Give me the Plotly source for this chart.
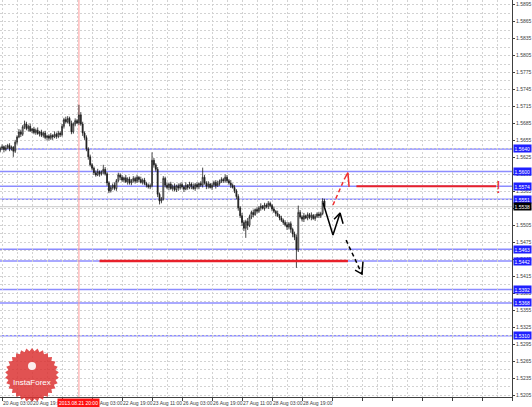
import numpy as np
import plotly.graph_objects as go

# ---------------- data ----------------
first_open = 1.5638
closes = [
    1.5641, 1.5644, 1.5639, 1.5642, 1.5646, 1.5640, 1.5643, 1.5636,
    1.5652, 1.5661, 1.5670, 1.5666, 1.5679,
    1.5684,
    1.5676, 1.5680, 1.5672, 1.5675, 1.5669, 1.5673, 1.5667, 1.5670, 1.5664, 1.5668, 1.5660, 1.5663,
    1.5659, 1.5664, 1.5661, 1.5666, 1.5662, 1.5668, 1.5665,
    1.5680, 1.5692, 1.5688,
    1.5694, 1.5685, 1.5670, 1.5684, 1.5690, 1.5686,
    1.5700,
    1.5684, 1.5668, 1.5660,
    1.5640, 1.5626,
    1.5612, 1.5606,
    1.5598, 1.5594, 1.5600, 1.5596,
    1.5599, 1.5604, 1.5596, 1.5580,
    1.5566,
    1.5572, 1.5576, 1.5570,
    1.5584, 1.5594, 1.5590,
    1.5585, 1.5589, 1.5582, 1.5587, 1.5580, 1.5584, 1.5588,
    1.5583, 1.5590, 1.5586, 1.5581, 1.5585, 1.5579, 1.5576,
    1.5573, 1.5575,
    1.5620,
    1.5612, 1.5604,
    1.5560, 1.5548,
    1.5552,
    1.5588,
    1.5576, 1.5572, 1.5578, 1.5570, 1.5574, 1.5568, 1.5575, 1.5571, 1.5577,
    1.5573, 1.5569, 1.5576, 1.5572, 1.5578, 1.5574, 1.5570, 1.5577, 1.5573, 1.5579, 1.5576,
    1.5590,
    1.5580, 1.5574, 1.5578, 1.5572, 1.5576, 1.5581, 1.5575, 1.5579, 1.5583, 1.5586, 1.5584,
    1.5590,
    1.5584, 1.5580, 1.5576, 1.5572, 1.5566, 1.5556,
    1.5536, 1.5522, 1.5510,
    1.5500, 1.5512, 1.5505,
    1.5520, 1.5528, 1.5524, 1.5533, 1.5530, 1.5536, 1.5539, 1.5535, 1.5541, 1.5538, 1.5544, 1.5540,
    1.5534, 1.5530, 1.5526, 1.5522, 1.5518, 1.5514,
    1.5510, 1.5506, 1.5502, 1.5508, 1.5498,
    1.5490, 1.5484, 1.5462,
    1.5528,
    1.5520, 1.5516, 1.5522, 1.5518, 1.5524, 1.5519, 1.5523, 1.5517, 1.5521, 1.5525, 1.5522,
    1.5526, 1.5548, 1.5538,
]
# upper / lower wick lengths in pips
up_wick = [
    3, 4, 2, 5, 3, 4, 3, 2,
    4, 3, 5, 4, 3,
    6,
    4, 3, 5, 2, 4, 3, 5, 2, 4, 3, 4, 2,
    3, 4, 2, 5, 3, 4, 3,
    4, 3, 5,
    4, 3, 5, 3, 4, 3,
    18,
    5, 4, 3,
    4, 3,
    4, 3,
    3, 4, 5, 2,
    3, 8, 4, 3,
    3,
    4, 3, 5,
    3, 4, 3,
    4, 2, 5, 3, 4, 3, 4,
    3, 4, 2, 5, 3, 4, 3,
    3, 4,
    14,
    4, 3,
    4, 3,
    3,
    4,
    3, 5, 2, 4, 3, 5, 2, 4, 3,
    4, 3, 5, 2, 4, 3, 5, 3, 4, 2, 4,
    17,
    4, 3, 5, 2, 4, 3, 4, 5, 3, 4, 3,
    5,
    4, 3, 5, 3, 4, 3,
    4, 3, 5,
    4, 3, 6,
    4, 3, 5, 2, 4, 3, 5, 2, 4, 3, 4, 3,
    3, 4, 2, 5, 3, 4,
    3, 4, 5, 3, 4,
    3, 4, 5,
    12,
    4, 3, 5, 2, 4, 3, 5, 2, 4, 3, 4,
    3, 5, 4,
]
down_wick = [
    4, 3, 5, 3, 2, 4, 3, 10,
    3, 4, 2, 5, 3,
    4,
    3, 5, 2, 4, 3, 4, 2, 5, 3, 4, 3, 5,
    4, 3, 5, 2, 4, 3, 4,
    3, 4, 3,
    3, 5, 4, 3, 4, 2,
    4,
    3, 5, 4,
    4, 5,
    3, 4,
    4, 3, 2, 5,
    3, 4, 3, 5,
    4,
    3, 4, 3,
    4, 3, 5,
    3, 4, 2, 5, 3, 4, 3,
    4, 3, 5, 2, 4, 3, 4,
    3, 4,
    3,
    5, 4,
    5, 6,
    4,
    3,
    4, 3, 5, 2, 4, 3, 4, 5, 3,
    3, 5, 2, 4, 3, 5, 2, 4, 3, 4, 3,
    4,
    3, 5, 4, 2, 4, 3, 5, 2, 4, 3, 4,
    3,
    4, 3, 5, 2, 4, 5,
    5, 4, 6,
    5, 17, 8,
    3, 4, 5, 2, 4, 3, 5, 2, 4, 3, 4, 3,
    4, 3, 5, 2, 4, 3,
    4, 3, 5, 4, 6,
    6, 5, 32,
    4,
    3, 4, 5, 2, 4, 3, 5, 2, 4, 3, 4,
    4, 3, 4,
]

# x axis: bar index (H1 bars), labels every 16 bars
x_label_bars = [1, 17, 49, 65, 81, 97, 113, 129, 145, 161]
x_label_text = ["20 Aug 03:00", "20 Aug 19:00", "22 Aug 03:00", "22 Aug 19:00",
                "23 Aug 11:00", "26 Aug 03:00", "26 Aug 19:00", "27 Aug 11:00",
                "28 Aug 03:00", "28 Aug 19:00"]
marker_bar = 42
marker_text = "2013.08.21 20:00"

# price axis
y_tick_vals = [round(1.5205 + 0.003 * k, 4) for k in range(24)]
blue_levels = [1.5640, 1.5600, 1.5574, 1.5551, 1.5463, 1.5442, 1.5392, 1.5368, 1.5310]
current_price = 1.5538

# drawn forecast elements (bar index, price)
support_line_x = [53, 185.5]
support_line_y = [1.5442, 1.5442]
target_line_x = [190, 264.5]
target_line_y = [1.5574, 1.5574]
red_arrow_x = [177.5, 183.9]
red_arrow_y = [1.5541, 1.5589]
red_head_x = [183.9, 185.5, 186.1]
red_head_y = [1.5589, 1.5598, 1.5573]
zig_x = [172.2, 177.5, 181.3]
zig_y = [1.5545, 1.5488, 1.5527]
zig_head_x = [178.1, 181.3, 182.9]
zig_head_y = [1.5516, 1.5527, 1.5508]
down_arrow_x = [184.5, 193.0]
down_arrow_y = [1.5479, 1.5419]
down_head_x = [189.3, 193.0, 193.5]
down_head_y = [1.5426, 1.5419, 1.5441]

# ---------------- build figure ----------------
n = len(closes)
bars = list(range(n))
opens = [first_open] + closes[:-1]
highs = [round(max(o, c) + u * 0.0001, 5) for o, c, u in zip(opens, closes, up_wick)]
lows = [round(min(o, c) - d * 0.0001, 5) for o, c, d in zip(opens, closes, down_wick)]

W, H = 532, 407
ML, MR, MT, MB = 0, 20, 0, 10
PW, PH = W - ML - MR, H - MT - MB

FONT = "Liberation Sans"

fig = go.Figure()
fig.add_trace(go.Candlestick(
    x=bars, open=opens, high=highs, low=lows, close=closes,
    increasing=dict(line=dict(color="#1a1a1a", width=0.8), fillcolor="#ffffff"),
    decreasing=dict(line=dict(color="#1a1a1a", width=0.8), fillcolor="#1a1a1a"),
    whiskerwidth=0, showlegend=False, hoverinfo="skip",
))

def line_trace(xs, ys, color, width, dash="solid"):
    fig.add_trace(go.Scatter(x=xs, y=ys, mode="lines",
                             line=dict(color=color, width=width, dash=dash),
                             showlegend=False, hoverinfo="skip"))

line_trace(support_line_x, support_line_y, "#e8202a", 2.5)
line_trace(target_line_x, target_line_y, "#e8202a", 2)
line_trace(red_arrow_x, red_arrow_y, "#f03030", 1.5, "4px,3px")
line_trace(red_head_x, red_head_y, "#f03030", 1.5)
line_trace(zig_x, zig_y, "#000000", 1.5)
line_trace(zig_head_x, zig_head_y, "#000000", 1.5)
line_trace(down_arrow_x, down_arrow_y, "#000000", 1.5, "4px,3px")
line_trace(down_head_x, down_head_y, "#000000", 1.5)

shapes = []
for lv in blue_levels:
    shapes.append(dict(type="line", xref="paper", x0=0, x1=1, yref="y", y0=lv, y1=lv,
                       line=dict(color="#8c8cff", width=1.5), layer="below"))
shapes.append(dict(type="line", xref="paper", x0=0, x1=1, yref="y", y0=current_price,
                   y1=current_price, line=dict(color="#c8c8c8", width=1), layer="below"))
shapes.append(dict(type="line", xref="x", x0=marker_bar, x1=marker_bar, yref="paper",
                   y0=0, y1=1, line=dict(color="#ff9a9a", width=1), layer="below"))

# InstaForex badge (starburst) in pixel space -> paper
cx, cy, R1, R2, NP = 32, 375, 27, 24, 30
pts = []
for k in range(2 * NP):
    a = k * np.pi / NP
    r = R1 if k % 2 == 0 else R2
    X = cx + r * np.sin(a)
    Y = cy - r * np.cos(a)
    pts.append(((X - ML) / PW, (PH + MT - Y) / PH))
path = "M " + " L ".join(f"{px:.4f},{py:.4f}" for px, py in pts) + " Z"
shapes.append(dict(type="path", xref="paper", yref="paper", path=path,
                   fillcolor="rgba(220,52,52,0.85)", line=dict(width=0), layer="above"))
# small white icon
ix, iy, ir = 32, 366, 4
shapes.append(dict(type="circle", xref="paper", yref="paper",
                   x0=(ix - ir) / PW, x1=(ix + ir) / PW,
                   y0=(PH - iy - ir) / PH, y1=(PH - iy + ir) / PH,
                   fillcolor="rgba(255,255,255,0.9)", line=dict(width=0), layer="above"))

annotations = []
for b, t in zip(x_label_bars, x_label_text):
    annotations.append(dict(x=b, xref="x", y=0, yref="paper", yanchor="top", xanchor="left",
                            yshift=-1, xshift=-1, text=t, showarrow=False,
                            font=dict(family=FONT, size=5, color="#404040")))
annotations.append(dict(x=marker_bar, xref="x", y=0, yref="paper", yanchor="top",
                        xanchor="center", yshift=-1, text=marker_text, showarrow=False,
                        bgcolor="#ff1010", borderpad=1,
                        font=dict(family=FONT, size=5, color="#ffffff")))
for lv in blue_levels:
    annotations.append(dict(x=1, xref="paper", xanchor="left", xshift=1, y=lv, yref="y",
                            text=f"{lv:.4f}", showarrow=False, bgcolor="#1f1fff", borderpad=0.5,
                            font=dict(family=FONT, size=5, color="#ffffff")))
annotations.append(dict(x=1, xref="paper", xanchor="left", xshift=1, y=current_price, yref="y",
                        text=f"{current_price:.4f}", showarrow=False, bgcolor="#000000",
                        borderpad=0.5, font=dict(family=FONT, size=5, color="#ffffff")))
annotations.append(dict(x=503 / PW, xref="paper", y=(PH - 188) / PH, yref="paper",
                        text="!", showarrow=False,
                        font=dict(family=FONT, size=17, color="#f03030")))
annotations.append(dict(x=cx / PW, xref="paper", xanchor="center", y=(PH - 382) / PH,
                        yref="paper", yanchor="middle",
                        text="InstaForex", showarrow=False,
                        font=dict(family=FONT, size=8, color="#ffffff")))

grid_col = "#d2d2d2"
fig.update_layout(
    width=W, height=H,
    margin=dict(l=ML, r=MR, t=MT, b=MB, pad=0),
    paper_bgcolor="#ffffff", plot_bgcolor="#ffffff",
    showlegend=False,
    shapes=shapes, annotations=annotations,
    xaxis=dict(
        range=[-0.1, 273], rangeslider=dict(visible=False), fixedrange=True,
        tickmode="array", tickvals=list(range(1, 274, 16)), showticklabels=False,
        ticks="outside", ticklen=3, tickcolor="#404040",
        showgrid=True, gridcolor=grid_col, griddash="2px,2px", gridwidth=1,
        minor=dict(tickmode="array", tickvals=list(range(9, 274, 16)), showgrid=True,
                   gridcolor=grid_col, griddash="2px,2px", ticks=""),
        showline=True, linecolor="#404040", linewidth=1, zeroline=False, automargin=False,
    ),
    yaxis=dict(
        range=[1.5202, 1.5903], side="right", fixedrange=True,
        tickmode="array", tickvals=y_tick_vals, ticktext=[f"{v:.4f}" for v in y_tick_vals],
        tickfont=dict(family=FONT, size=5, color="#404040"),
        ticks="outside", ticklen=2, tickcolor="#404040",
        showgrid=True, gridcolor=grid_col, griddash="2px,2px", gridwidth=1,
        minor=dict(tickmode="array", tickvals=[round(v + 0.0015, 4) for v in y_tick_vals],
                   showgrid=True, gridcolor=grid_col, griddash="2px,2px", ticks=""),
        showline=True, linecolor="#404040", linewidth=1, zeroline=False, automargin=False,
    ),
)

fig.write_html(
    "out.html",
    config={"displayModeBar": False, "staticPlot": True},
    post_script="document.body.style.margin='0';document.body.style.overflow='hidden';",
)
